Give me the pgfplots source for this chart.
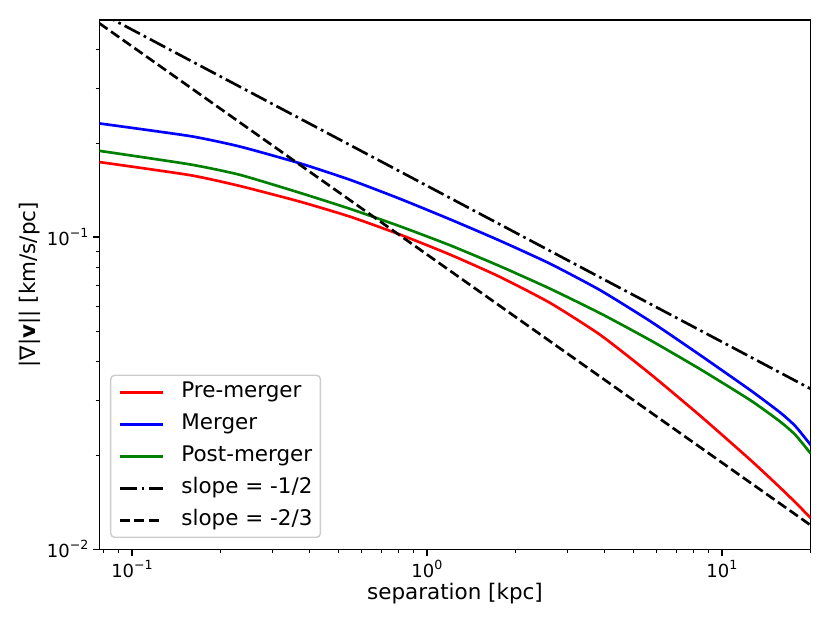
\documentclass[border=0pt]{standalone}
\usepackage{fontspec}
\setmainfont{DejaVu Sans}
\usepackage{pgfplots}
\pgfplotsset{compat=1.18}
\newcommand{\tp}[1]{10\raisebox{0.45em}{\fontsize{9.45}{10}\selectfont #1}}
\definecolor{mplgreen}{rgb}{0,0.5,0}
\begin{document}
\begin{tikzpicture}
\useasboundingbox (-74.5pt,-55.3pt) rectangle (548pt,411.95pt);
\begin{axis}[
 at={(0,0)}, anchor=south west,
 scale only axis, width=533.5pt, height=397pt,
 xmode=log, ymode=log,
 xmin=0.0775, xmax=20, ymin=0.01, ymax=0.496,
 axis line style={line width=1.08pt},
 major tick style={line width=1.08pt, black},
 minor tick style={line width=0.81pt, black},
 major tick length=4.7pt, minor tick length=2.7pt,
 tick align=outside, tick pos=left,
 xtick={0.1,1,10}, xticklabels={\tp{−1},\tp{0},\tp{1}},
 ytick={0.01,0.1}, yticklabels={\tp{−2},\tp{−1}},
 minor xtick={0.08,0.09,0.2,0.3,0.4,0.5,0.6,0.7,0.8,0.9,2,3,4,5,6,7,8,9,20},
 minor ytick={0.02,0.03,0.04,0.05,0.06,0.07,0.08,0.09,0.2,0.3,0.4},
 ticklabel style={font=\fontsize{13.5}{16}\selectfont},
 label style={font=\fontsize{16.1}{19}\selectfont},
 xlabel={separation [kpc]}, xlabel shift=-3pt,
 ylabel={|∇|\textbf{v}|| [km/s/pc]}, ylabel shift=-2pt,
 legend cell align=left,
 legend image code/.code={\draw[#1, line width=2pt] (0pt,0pt) -- (32pt,0pt);},
 legend style={at={(0.015,0.0213)}, anchor=south west, draw=black!20,
   rounded corners=3pt, fill=white, fill opacity=0.8, text opacity=1,
   line width=1.08pt, font=\fontsize{16.1}{19}\selectfont,
   inner xsep=6pt, inner ysep=5pt, row sep=8.5pt, column sep=13pt,
   nodes={inner xsep=0pt, inner ysep=0pt, text height=12pt, text depth=3.5pt}},
]
\addplot[red, line width=2pt, smooth, tension=0.35] coordinates {
(0.0775,0.1739) (0.1573,0.1579) (0.2325,0.1457) (0.3717,0.1298) (0.5493,0.1162)
(0.8116,0.1018) (1.1997,0.08782) (1.7731,0.07445) (2.6208,0.06146) (3.8736,0.04857)
(5.7243,0.03641) (8.4606,0.02672) (12.507,0.01931) (15.81,0.01571) (17.77,0.01411) (20,0.01260)};
\addlegendentry{Pre-merger}
\addplot[blue, line width=2pt, smooth, tension=0.35] coordinates {
(0.0775,0.2312) (0.1573,0.2106) (0.2325,0.1949) (0.3717,0.1722) (0.5493,0.1525)
(0.8116,0.1325) (1.1997,0.1139) (1.7731,0.09723) (2.6208,0.08208) (3.8736,0.06752)
(5.7243,0.05372) (8.4606,0.04180) (12.507,0.03229) (15.81,0.02735) (17.77,0.02476) (20,0.02158)};
\addlegendentry{Merger}
\addplot[mplgreen, line width=2pt, smooth, tension=0.35] coordinates {
(0.0775,0.1889) (0.1573,0.1709) (0.2325,0.1582) (0.3717,0.1385) (0.5493,0.1231)
(0.8116,0.1082) (1.1997,0.09406) (1.7731,0.08058) (2.6208,0.06826) (3.8736,0.05697)
(5.7243,0.04670) (8.4606,0.03770) (12.507,0.02999) (15.81,0.02558) (17.77,0.02321) (20,0.02026)};
\addlegendentry{Post-merger}
\addplot[black, line width=2pt, dash pattern=on 12.96pt off 3.24pt on 2.03pt off 3.24pt] coordinates {
(0.0775,0.5245) (20,0.03265)};
\addlegendentry{slope = -1/2}
\addplot[black, line width=2pt, dash pattern=on 7.5pt off 3.24pt] coordinates {
(0.0775,0.4839) (20,0.01194)};
\addlegendentry{slope = -2/3}
\end{axis}
\end{tikzpicture}
\end{document}
